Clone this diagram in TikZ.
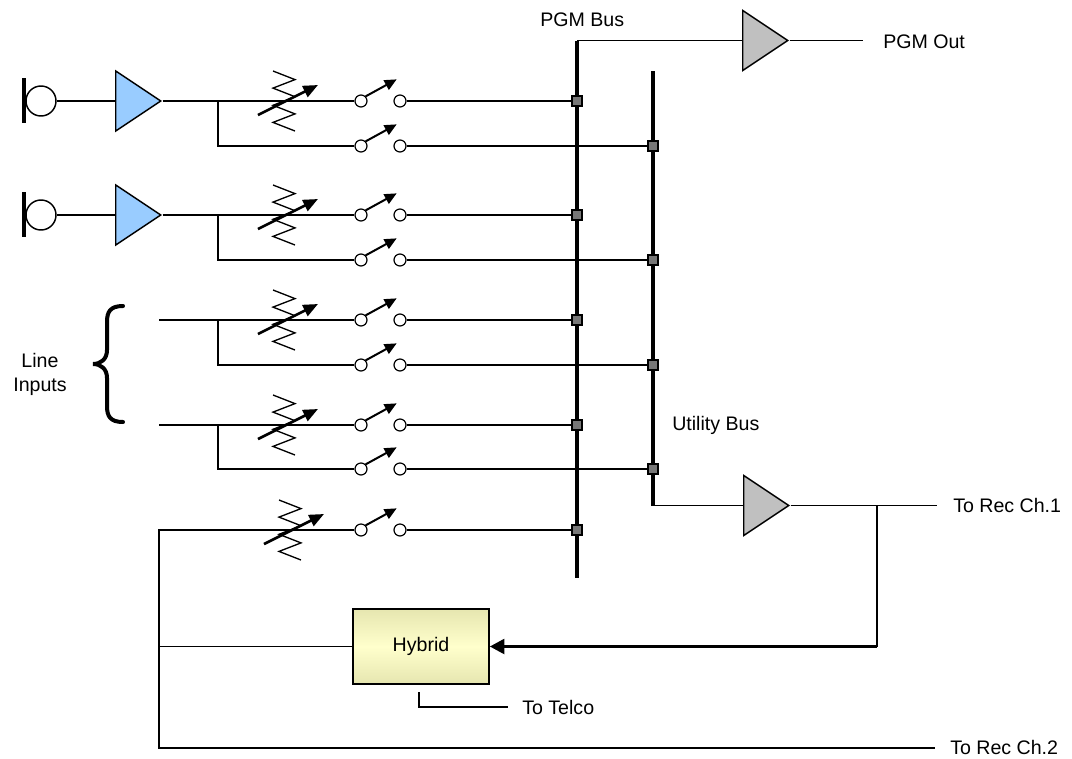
\documentclass[tikz,border=0pt]{standalone}
\usepackage{fontspec}
\setmainfont{Liberation Sans}
\usepackage{tikz}
\usetikzlibrary{shapes.geometric,arrows.meta}
\definecolor{micblue}{RGB}{153,204,255}
\definecolor{ampgray}{RGB}{192,192,192}
\definecolor{tapgray}{RGB}{120,120,120}
\definecolor{hyblight}{RGB}{255,255,204}
\definecolor{hybdark}{RGB}{230,230,176}

\begin{document}
\begin{tikzpicture}[x=0.75pt, y=-0.75pt,
		wire/.style={line width=1.3pt},
		bus/.style={line width=2.5pt},
		zig/.style={line width=1pt},
		knob/.style={line width=2pt, -{Triangle[length=11pt,width=9pt]}},
		lever/.style={line width=1.5pt, -{Triangle[length=9pt,width=8pt]}},
		heavy/.style={line width=2.5pt, -{Triangle[length=11pt,width=11pt]}},
		contact/.style={circle, draw, fill=white, line width=0.9pt, minimum size=9pt, inner sep=0pt},
		tap/.style={rectangle, draw, fill=tapgray, line width=0.9pt, minimum size=7.5pt, inner sep=0pt},
		amp/.style={isosceles triangle, isosceles triangle stretches, draw, line width=1.1pt, minimum width=45pt, minimum height=33.75pt, inner sep=0pt, anchor=west},
		mic/.style={circle, draw, line width=1.1pt, minimum size=22.5pt, inner sep=0pt},
		lbl/.style={font=\fontsize{14.7pt}{18pt}\selectfont, inner sep=0pt, anchor=base west}]
			\useasboundingbox (0,0) rectangle (1072,758);
			\coordinate (pgmtop) at (577,40.5);
			\coordinate (pgmbot) at (577,578);
			\coordinate (utiltop) at (653,71);
			\coordinate (utilbot) at (653,505.5);
			\draw[bus] (pgmtop)--(pgmbot);
			\draw[bus] (utiltop)--(utilbot);
			\node[mic] (mic1) at (41,101) {};
			\node[mic] (mic2) at (41,215) {};
			\draw[bus] (24,78)--(24,123);
			\draw[bus] (24,192)--(24,237);
			\node[amp, fill=micblue] (amp1) at (115,101) {};
			\node[amp, fill=micblue] (amp2) at (115,215) {};
			\node[amp, fill=ampgray] (pgmamp) at (742,40.5) {};
			\node[amp, fill=ampgray] (utilamp) at (743,505.5) {};
			\foreach \n/\y in {1/101, 2/215, 3/320, 4/425, 5/530} {
				\node[contact] (sa\n) at (361,\y) {};
				\node[contact] (sb\n) at (400,\y) {};
				\node[tap] (pg\n) at (577,\y) {};
				\draw[lever] (sa\n.north east)--++(31,-17);
				\draw[wire] (sb\n.east)--(pg\n.west);
			}
			\foreach \n/\y in {1/146, 2/260, 3/365, 4/469} {
				\node[contact] (ta\n) at (361,\y) {};
				\node[contact] (tb\n) at (400,\y) {};
				\node[tap] (ut\n) at (653,\y) {};
				\draw[lever] (ta\n.north east)--++(31,-17);
				\draw[wire] (tb\n.east)--(ut\n.west);
			}
			\coordinate (j1) at (218,101);
			\coordinate (j2) at (218,215);
			\coordinate (j3) at (218,320);
			\coordinate (j4) at (218,425);
			\coordinate (in3) at (159,320);
			\coordinate (in4) at (159,425);
			\draw[wire] (mic1)--(amp1.west);
			\draw[wire] (mic2)--(amp2.west);
			\draw[wire] (amp1.east)--(sa1.west);
			\draw[wire] (amp2.east)--(sa2.west);
			\draw[wire] (in3)--(sa3.west);
			\draw[wire] (in4)--(sa4.west);
			\draw[wire] (j1)|-(ta1.west);
			\draw[wire] (j2)|-(ta2.west);
			\draw[wire] (j3)|-(ta3.west);
			\draw[wire] (j4)|-(ta4.west);
			\foreach \x/\y in {284/101, 284/215, 284/320, 284/425, 290/530} {
				\draw[zig] (\x-11,\y-30)--(\x+11,\y-21.4)--(\x-11,\y-12.9)--(\x+11,\y-4.3)--(\x-11,\y+4.3)--(\x+11,\y+12.9)--(\x-11,\y+21.4)--(\x+11,\y+30);
				\draw[knob] (\x-26,\y+14)--(\x+34,\y-16);
			}
			\draw[line width=3pt, line cap=round] (123,306) .. controls (110,306) and (107,312) .. (107,322)--(107,350) .. controls (107,359) and (101,364) .. (93,364) .. controls (101,364) and (107,369) .. (107,378)--(107,406) .. controls (107,416) and (110,422) .. (123,422);
			\node[lbl, anchor=north, align=center] (linelbl) at (40,353) {Line\\Inputs};
			\node[draw, line width=1.1pt, top color=hybdark, bottom color=hybdark, middle color=hyblight, minimum width=102pt, minimum height=56.25pt, font=\fontsize{14.7pt}{18pt}\selectfont] (hyb) at (421,646.5) {Hybrid};
			\coordinate (rtop) at (159,530);
			\coordinate (rmid) at (159,646.5);
			\coordinate (rbot) at (159,748);
			\coordinate (rec1) at (937,505.5);
			\coordinate (rec2) at (935,748);
			\coordinate (split) at (877,505.5);
			\coordinate (bend) at (877,646.5);
			\coordinate (pgmout) at (863,40.5);
			\coordinate (tel) at (419,692);
			\coordinate (telco) at (508,707);
			\draw[wire] (sa5.west)--(rtop)--(rbot)--(rec2);
			\draw[wire] (hyb.west)--(rmid);
			\draw[wire] (pgmtop)--(pgmamp.west);
			\draw[wire] (pgmamp.east)--(pgmout);
			\draw[wire] (utilbot)--(utilamp.west);
			\draw[wire] (utilamp.east)--(rec1);
			\draw[wire] (split)--(bend);
			\draw[heavy] (bend)--(hyb.east);
			\draw[wire] (tel)|-(telco);
			\node[lbl] (pgmbuslbl) at (540,26) {PGM Bus};
			\node[lbl] (pgmoutlbl) at (883,48) {PGM Out};
			\node[lbl] (utillbl) at (672,430) {Utility Bus};
			\node[lbl] (rec1lbl) at (953,512) {To Rec Ch.1};
			\node[lbl] (rec2lbl) at (950,754) {To Rec Ch.2};
			\node[lbl] (telcolbl) at (522,714) {To Telco};
		\end{tikzpicture}
\end{document}
